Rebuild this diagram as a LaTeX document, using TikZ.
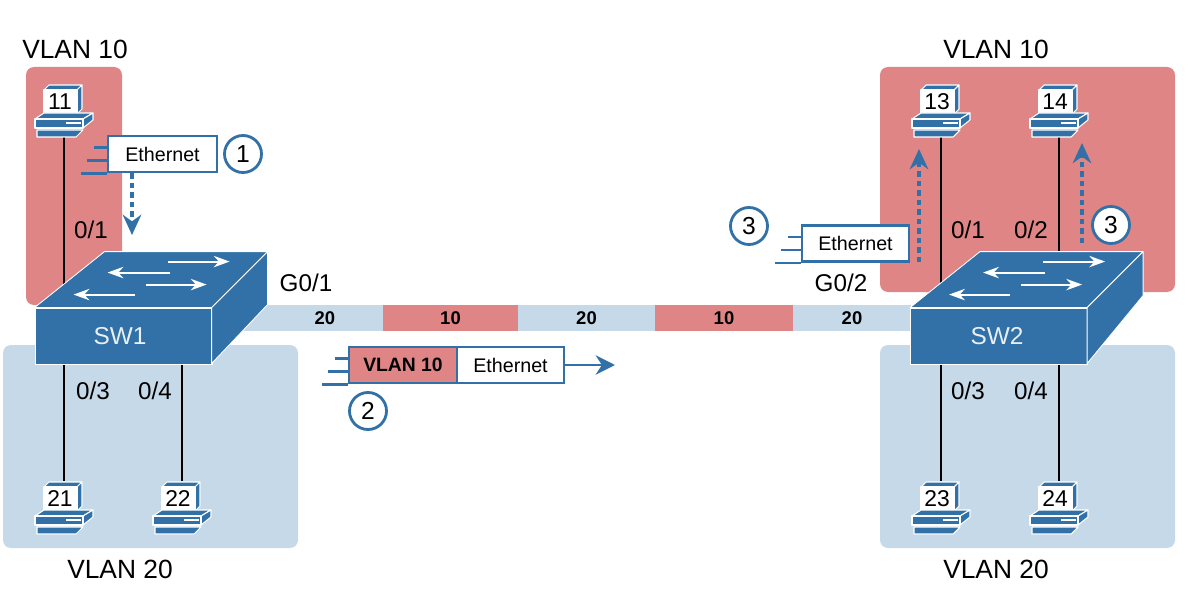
\documentclass[tikz,border=0pt]{standalone}
\usepackage{fontspec}
\setmainfont{Liberation Sans}
\usetikzlibrary{arrows.meta,backgrounds}
\definecolor{ciscoblue}{HTML}{3171A8}
\definecolor{vlanred}{HTML}{E08585}
\definecolor{vlanblue}{HTML}{C5D9E8}
\tikzset{
  region/.style={rounded corners=0.16cm},
  biglabel/.style={font=\fontsize{15}{15}\selectfont},
  portlabel/.style={font=\fontsize{13.8}{14}\selectfont},
  hostbox/.style={minimum width=1.16cm,minimum height=1.04cm,inner sep=0pt},
  hostnum/.style={font=\fontsize{13}{13}\selectfont,inner sep=0pt},
  link/.style={line width=1.5pt,black},
  swfront/.style={fill=ciscoblue,draw=white,line width=0.5pt,minimum width=3.54cm,minimum height=1.12cm,
    text=vlanblue!40!white,font=\fontsize{13.9}{14}\selectfont},
  swface/.style={fill=ciscoblue,draw=white,line width=0.5pt,line join=round},
  swarrow/.style={white,line width=1.1pt,-{Stealth[length=9pt,width=6.5pt]}},
  seg/.style={minimum height=0.52cm,inner sep=0pt,font=\bfseries\fontsize{10.5}{11}\selectfont},
  frame/.style={draw=ciscoblue,line width=1.6pt,fill=white,minimum height=0.72cm,inner sep=0pt,
    font=\fontsize{11.2}{12}\selectfont},
  speed/.style={ciscoblue,line width=1.5pt},
  step num/.style={circle,draw=ciscoblue,line width=1.6pt,fill=white,minimum size=0.74cm,inner sep=0pt,
    font=\fontsize{14}{14}\selectfont},
  flow/.style={ciscoblue,line width=1.6pt,-{Stealth[length=11pt,width=11pt]}},
  flowdash/.style={ciscoblue,line width=2.1pt,dash pattern=on 3pt off 2.4pt,-{Stealth[length=11.5pt,width=10.5pt]}}
}
% host: node name, position, number
\newcommand{\host}[3]{
  \node[hostbox] (#1) at (#2) {};
  \begin{scope}[shift={(#1.center)},draw=white,line width=0.6pt,line join=round]
    \filldraw[fill=ciscoblue] (-20,-20) -- (-15,-25) -- (18,-25) -- (13,-20) -- cycle;
    \filldraw[fill=ciscoblue] (13,-20) -- (18,-25) -- (18,-1) -- (13,4) -- cycle;
    \filldraw[fill=white] (-20,-20) rectangle (13,4);
    \filldraw[fill=ciscoblue] (-29,9) -- (-20,3) -- (29,3) -- (19,9) -- cycle;
    \filldraw[fill=ciscoblue] (19,9) -- (29,3) -- (29,10) -- (19,18) -- cycle;
    \filldraw[fill=ciscoblue] (-29,9) rectangle (19,18);
    \fill[white] (2,12) rectangle (17,14);
    \filldraw[fill=ciscoblue] (-27,20) -- (19,20) -- (12,27) -- (-27,27) -- cycle;
  \end{scope}
  \node[hostnum] (#1num) at ([shift={(-4,-8)}]#1.center) {#3};
}
% switch: node name, position, text, drop of the right side
\newcommand{\switchbox}[4]{
  \node[swfront] (#1) at (#2) {#3};
  \begin{scope}[shift={(#1.north west)}]
    \filldraw[swface] (0,0) -- (70,-56) -- (233,-56) -- (177,0) -- cycle;
    \filldraw[swface] (177,0) -- (233,-56) -- (233,#4) -- (177,56) -- cycle;
    \draw[swarrow] (133,-46) -- (195,-46);
    \draw[swarrow] (135,-35) -- (73,-35);
    \draw[swarrow] (111,-23) -- (172,-23);
    \draw[swarrow] (100,-13) -- (39,-13);
  \end{scope}
}
\newcommand{\speedlines}[1]{
  \draw[speed] (#1.south west) -- ++(-26,0);
  \draw[speed] ([shift={(0,-13)}]#1.south west) -- ++(-20,0);
  \draw[speed] ([shift={(0,-26)}]#1.south west) -- ++(-13,0);
}
\begin{document}
\begin{tikzpicture}[x=0.02cm,y=-0.02cm]
  \useasboundingbox (0,0) rectangle (1198,608);

  \host{pcA}{64,110}{11}
  \host{pcB}{64,507}{21}
  \host{pcC}{182,507}{22}
  \host{pcD}{941,110}{13}
  \host{pcE}{1059,110}{14}
  \host{pcF}{941,507}{23}
  \host{pcG}{1059,507}{24}

  \switchbox{sw1}{123.5,336}{\hspace*{-0.14cm}SW1}{-3}
  \switchbox{sw2}{999,336}{\hspace*{-0.08cm}SW2}{-12}

  \begin{pgfonlayer}{background}
    \fill[region,vlanred] (26,67) rectangle (122,305);
    \fill[region,vlanblue] (3,345) rectangle (298,548);
    \fill[region,vlanred] (880,67) rectangle (1175,292);
    \fill[region,vlanblue] (880,345) rectangle (1175,548);

    \node[seg,fill=vlanblue,minimum width=2.32cm] (t1) at (325,318) {20};
    \node[seg,fill=vlanred,minimum width=2.7cm] (t2) at (450.5,318) {10};
    \node[seg,fill=vlanblue,minimum width=2.74cm] (t3) at (586.5,318) {20};
    \node[seg,fill=vlanred,minimum width=2.76cm] (t4) at (724,318) {10};
    \node[seg,fill=vlanblue,minimum width=2.36cm] (t5) at (852,318) {20};
    \fill[vlanblue] (sw1.east |- t1.north) rectangle (t1.south west);

    \draw[link] (pcA.south) -- (pcA |- sw1.north);
    \draw[link] (pcB.north) -- (pcB |- sw1.south);
    \draw[link] (pcC.north) -- (pcC |- sw1.south);
    \draw[link] (pcD.south) -- (pcD |- sw2.north);
    \draw[link] (pcE.south) -- (pcE |- sw2.north);
    \draw[link] (pcF.north) -- (pcF |- sw2.south);
    \draw[link] (pcG.north) -- (pcG |- sw2.south);
  \end{pgfonlayer}

  \node[biglabel] (v1) at (75,49) {VLAN 10};
  \node[biglabel] (v2) at (996,49) {VLAN 10};
  \node[biglabel] (v3) at (120,569) {VLAN 20};
  \node[biglabel] (v4) at (996,569) {VLAN 20};

  \node[portlabel] (p1) at (91,230) {0/1};
  \node[portlabel] (p2) at (93,391) {0/3};
  \node[portlabel] (p3) at (155,391) {0/4};
  \node[portlabel] (p4) at (306,283) {G0/1};
  \node[portlabel] (p5) at (841,283) {G0/2};
  \node[portlabel] (p6) at (968,230) {0/1};
  \node[portlabel] (p7) at (1031,230) {0/2};
  \node[portlabel] (p8) at (968,391) {0/3};
  \node[portlabel] (p9) at (1031,391) {0/4};

  % step 1
  \node[frame,minimum width=2.18cm] (eth1) at (162.5,154) {Ethernet};
  \speedlines{eth1}
  \node[step num] (s1) at (243,154) {1};
  \coordinate (d1) at (132,235);
  \draw[flowdash] (d1 |- eth1.south) -- (d1);

  % step 2
  \node[frame,minimum width=2.16cm,fill=vlanred,font=\bfseries\fontsize{11}{12}\selectfont] (tag2) at (403,365) {VLAN 10};
  \node[frame,minimum width=2.14cm] (eth2) at (510.5,365) {Ethernet};
  \speedlines{tag2}
  \node[step num] (s2) at (368,411) {2};
  \coordinate (d2) at (615,365);
  \draw[flow] (eth2.east) -- (d2);

  % step 3
  \node[frame,minimum width=2.14cm] (eth3) at (855.5,243.5) {Ethernet};
  \speedlines{eth3}
  \node[step num] (s3) at (749,226) {3};
  \node[step num] (s4) at (1111,225) {3};
  \coordinate (a1) at (919,262);
  \coordinate (a2) at (919,149);
  \coordinate (b1) at (1082,243);
  \coordinate (b2) at (1082,143);
  \draw[flowdash] (a1) -- (a2);
  \draw[flowdash] (b1) -- (b2);
\end{tikzpicture}
\end{document}
